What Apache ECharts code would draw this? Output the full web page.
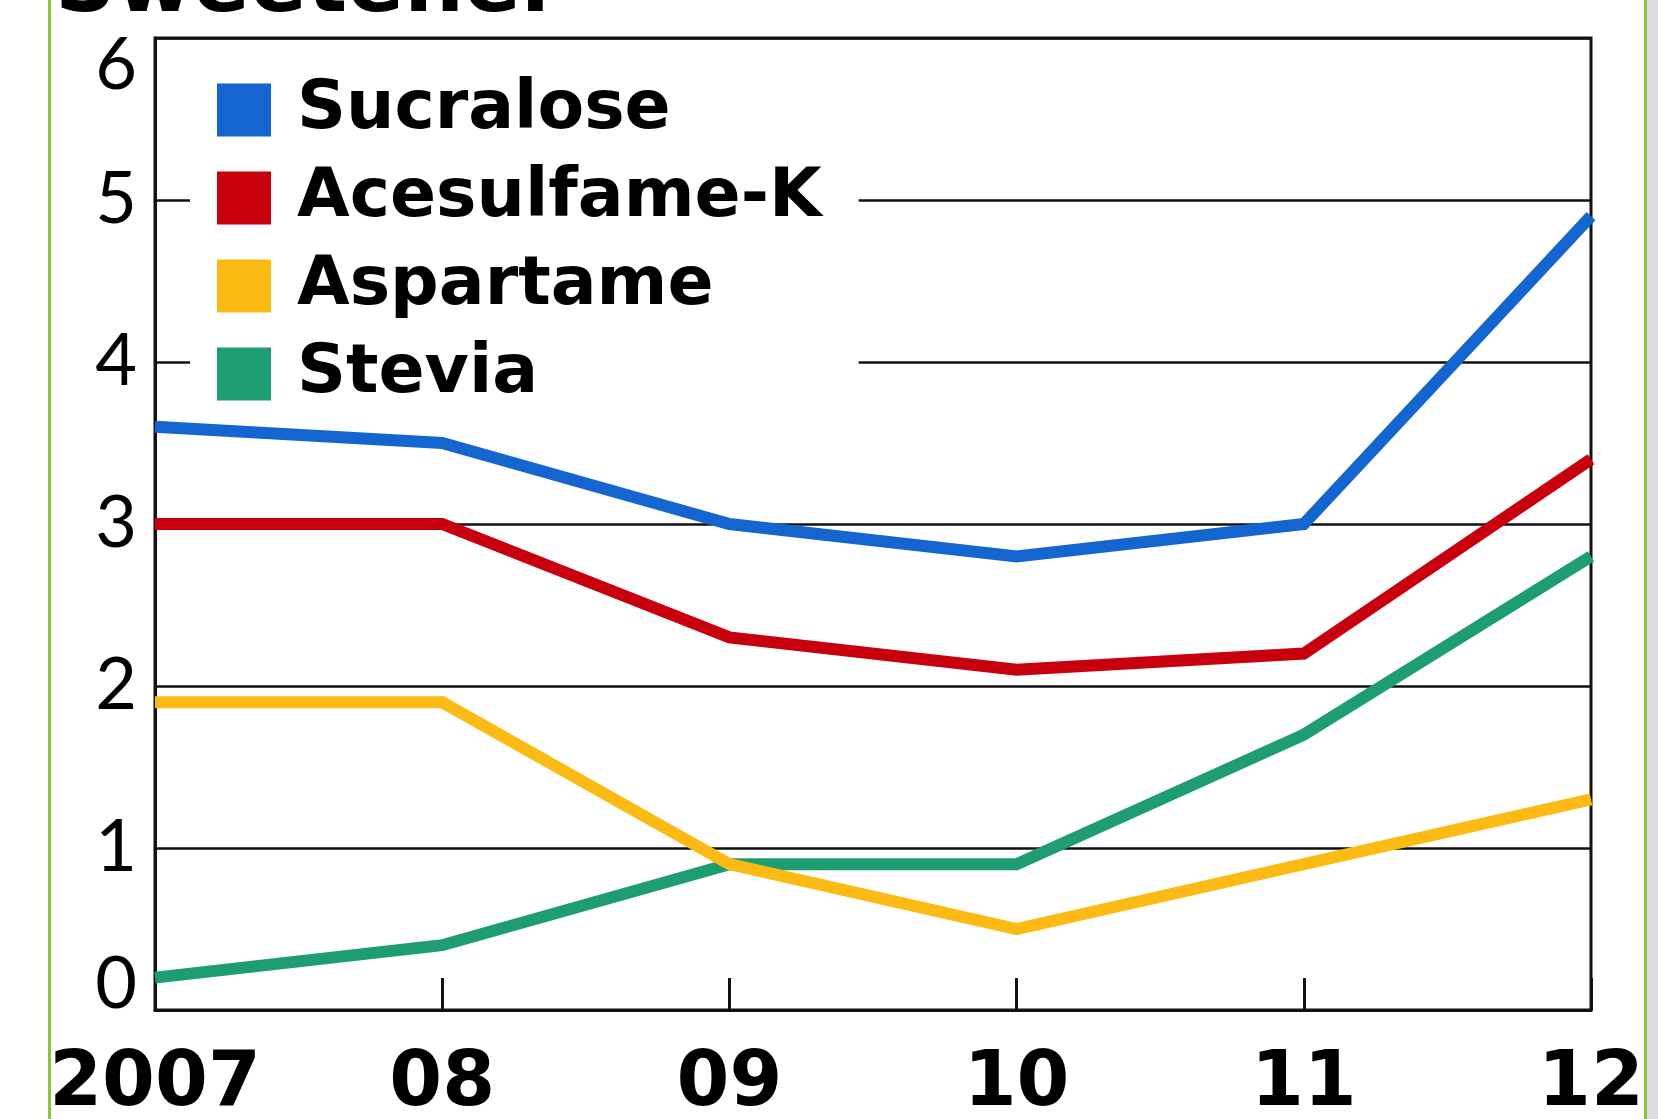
<!DOCTYPE html>
<html>
<head>
<meta charset="utf-8">
<title>Sweetener</title>
<script src="https://cdn.jsdelivr.net/npm/echarts@6/dist/echarts.min.js"></script>
<style>
  html, body { margin: 0; padding: 0; background: #fff; }
  #chart { width: 1658px; height: 1119px; }
</style>
</head>
<body>
<div id="chart"></div>
<script>
// data
var years = ['2007', '08', '09', '10', '11', '12'];
var sucralose = [3.6, 3.5, 3.0, 2.8, 3.0, 4.9];
var acesulfameK = [3.0, 3.0, 2.3, 2.1, 2.2, 3.4];
var aspartame = [1.9, 1.9, 0.9, 0.5, 0.9, 1.3];
var stevia = [0.2, 0.4, 0.9, 0.9, 1.7, 2.8];
var yTicks = [0, 1, 2, 3, 4, 5, 6];

var colors = ['#1565d0', '#c8000e', '#fbbb14', '#1e9e70'];

var chart = echarts.init(document.getElementById('chart'));

function line(name, data, color) {
  return {
    name: name,
    type: 'line',
    data: data,
    symbol: 'none',
    color: color,
    z: 5,
    lineStyle: { width: 12, color: color, cap: 'butt', join: 'miter' },
    clip: false
  };
}

var yLabel = { fontFamily: 'Lato', fontWeight: 'normal', fontSize: 72, color: '#000' };

chart.setOption({
  animation: false,
  backgroundColor: '#fff',
  title: {
    text: 'Sweetener',
    left: 50,
    top: -58,
    textStyle: {
      fontFamily: 'DejaVu Sans',
      fontWeight: 'bold',
      fontSize: 84,
      color: '#000'
    }
  },
  grid: {
    left: 155,
    right: 67,
    top: 38,
    bottom: 109,
    outerBoundsMode: 'none',
    containLabel: false,
    show: true,
    borderColor: '#111',
    borderWidth: 3,
    backgroundColor: 'transparent'
  },
  legend: {
    orient: 'vertical',
    left: 190,
    top: 46,
    padding: [30, 37, 14, 27],
    backgroundColor: '#fff',
    icon: 'rect',
    itemWidth: 54,
    itemHeight: 53,
    itemGap: 20,
    z: 1,
    textStyle: {
      fontFamily: 'DejaVu Sans',
      fontWeight: 'bold',
      fontSize: 68,
      color: '#000',
      padding: [0, 0, 0, 21]
    },
    data: ['Sucralose', 'Acesulfame-K', 'Aspartame', 'Stevia']
  },
  xAxis: {
    type: 'category',
    data: years,
    boundaryGap: false,
    axisLine: { show: true, lineStyle: { color: '#111', width: 3 } },
    axisTick: { show: true, inside: true, length: 32, lineStyle: { color: '#111', width: 3 } },
    axisLabel: {
      margin: 37,
      fontFamily: 'DejaVu Sans',
      fontWeight: 'bold',
      fontSize: 76,
      color: '#000'
    },
    splitLine: { show: false }
  },
  yAxis: {
    type: 'value',
    min: yTicks[0],
    max: yTicks[yTicks.length - 1],
    interval: 1,
    axisLine: { show: true, lineStyle: { color: '#111', width: 3 } },
    axisTick: { show: false },
    splitLine: { show: true, lineStyle: { color: '#111', width: 2.5 } },
    axisLabel: {
      margin: 18,
      fontFamily: 'Lato',
      fontSize: 72,
      color: '#000',
      formatter: function (v) {
        if (v === yTicks[0]) return '{lo|' + v + '}';
        if (v === yTicks[yTicks.length - 1]) return '{hi|' + v + '}';
        return '{mid|' + v + '}';
      },
      rich: {
        lo: Object.assign({ padding: [0, 0, 50, 0] }, yLabel),
        hi: Object.assign({ padding: [56, 0, 0, 0] }, yLabel),
        mid: yLabel
      }
    }
  },
  graphic: [
    { type: 'rect', shape: { x: 48, y: 0, width: 3, height: 1119 }, style: { fill: '#8dc43c' }, silent: true },
    { type: 'rect', shape: { x: 1644, y: 0, width: 3, height: 1119 }, style: { fill: '#8dc43c' }, silent: true },
    { type: 'rect', shape: { x: 1647, y: 0, width: 11, height: 1119 }, style: { fill: '#dcdde0' }, silent: true }
  ],
  series: [
    line('Stevia', stevia, colors[3]),
    line('Aspartame', aspartame, colors[2]),
    line('Acesulfame-K', acesulfameK, colors[1]),
    line('Sucralose', sucralose, colors[0])
  ]
});
</script>
</body>
</html>
